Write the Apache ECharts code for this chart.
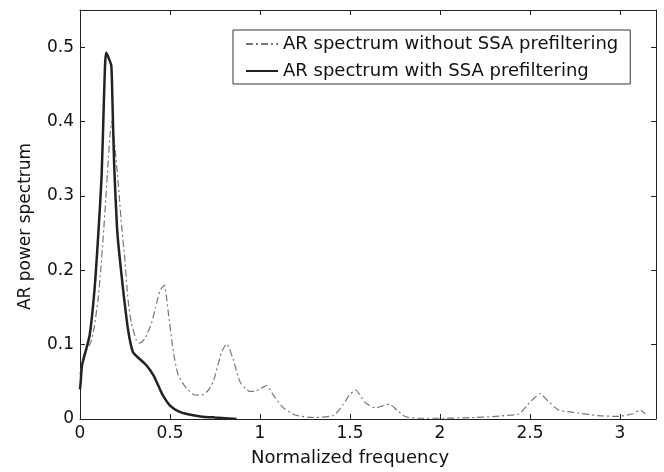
<!DOCTYPE html>
<html>
<head>
<meta charset="utf-8">
<title>AR power spectrum</title>
<script src="https://cdn.jsdelivr.net/npm/echarts@6/dist/echarts.min.js"></script>
<style>
html, body { margin: 0; padding: 0; background: #fff; }
#chart { width: 664px; height: 472px; }
</style>
</head>
<body>
<div id="chart"></div>
<script>
// AR spectrum without SSA prefiltering (dash-dot)
var rawFreq = [0, 0.02, 0.035, 0.05, 0.063, 0.08, 0.1, 0.115, 0.128, 0.139, 0.157, 0.168, 0.176, 0.19, 0.204, 0.218, 0.231, 0.248,
	0.267, 0.285, 0.313, 0.33, 0.36, 0.396, 0.42, 0.443, 0.468, 0.489, 0.517, 0.544, 0.58, 0.63, 0.676, 0.71, 0.74, 0.787, 0.815,
	0.85, 0.889, 0.944, 0.98, 1.037, 1.074, 1.13, 1.2, 1.3, 1.41, 1.46, 1.5, 1.53, 1.585, 1.64, 1.72, 1.76, 1.81, 1.88, 2.0, 2.2,
	2.33, 2.44, 2.49, 2.557, 2.6, 2.66, 2.77, 2.88, 2.99, 3.07, 3.113, 3.14];
var rawPower = [0.06, 0.085, 0.092, 0.098, 0.105, 0.125, 0.16, 0.2, 0.242, 0.28, 0.348, 0.385, 0.4, 0.375, 0.34, 0.3, 0.26, 0.218,
	0.16, 0.13, 0.106, 0.102, 0.108, 0.128, 0.15, 0.172, 0.18, 0.146, 0.093, 0.06, 0.045, 0.033, 0.032, 0.038, 0.05, 0.09, 0.101,
	0.081, 0.05, 0.037, 0.038, 0.045, 0.032, 0.015, 0.005, 0.002, 0.005, 0.019, 0.033, 0.039, 0.022, 0.015, 0.02, 0.012, 0.003, 0.001, 0.001, 0.002,
	0.004, 0.007, 0.02, 0.034, 0.024, 0.012, 0.008, 0.0045, 0.0035, 0.007, 0.012, 0.007];
// AR spectrum with SSA prefiltering (solid)
var ssaFreq = [0, 0.004, 0.011, 0.03, 0.054, 0.081, 0.102, 0.12, 0.133, 0.14, 0.146, 0.16, 0.174, 0.18, 0.19, 0.205, 0.215, 0.239,
	0.267, 0.294, 0.33, 0.37, 0.41, 0.435, 0.46, 0.5, 0.55, 0.6, 0.67, 0.75, 0.87];
var ssaPower = [0.04, 0.05, 0.072, 0.09, 0.113, 0.175, 0.25, 0.326, 0.43, 0.48, 0.493, 0.485, 0.475, 0.43, 0.34, 0.26, 0.23, 0.175,
	0.12, 0.09, 0.081, 0.072, 0.058, 0.045, 0.032, 0.018, 0.01, 0.0065, 0.0035, 0.002, 0];

var seriesNames = ['AR spectrum without SSA prefiltering', 'AR spectrum with SSA prefiltering'];
var xTicks = [0, 3.2, 0.5];
var yTicks = [0, 0.55, 0.1];

function pairs(xs, ys) {
	var out = [];
	for (var i = 0; i < xs.length; i++) {
		out.push([xs[i], ys[i]]);
	}
	return out;
}

var font = 'DejaVu Sans';
var lineColor = '#222';
var chart = echarts.init(document.getElementById('chart'));
var option = {
	animation: false,
	backgroundColor: '#fff',
	textStyle: { fontFamily: font, color: '#111' },
	grid: { left: 80, right: 8, top: 10, bottom: 51 },
	legend: {
		left: 233,
		top: 30,
		orient: 'vertical',
		data: seriesNames,
		itemWidth: 32,
		itemHeight: 14,
		itemGap: 9,
		padding: [5, 12, 4, 12],
		borderColor: '#333',
		borderWidth: 1,
		itemStyle: { opacity: 0 },
		textStyle: { fontFamily: font, fontSize: 18, color: '#111' }
	},
	xAxis: [{
		type: 'value',
		min: xTicks[0],
		max: xTicks[1],
		interval: xTicks[2],
		name: 'Normalized frequency',
		nameLocation: 'middle',
		nameGap: 30,
		nameTextStyle: { fontSize: 18, color: '#111', padding: [0, 36, 0, 0] },
		axisLine: { onZero: false, lineStyle: { color: lineColor, width: 1 } },
		axisTick: { inside: true, length: 5, lineStyle: { color: lineColor } },
		axisLabel: { fontSize: 17, color: '#111', margin: 6, showMaxLabel: false },
		splitLine: { show: false }
	}, {
		type: 'value',
		position: 'top',
		min: xTicks[0],
		max: xTicks[1],
		interval: xTicks[2],
		axisLine: { show: true, onZero: false, lineStyle: { color: lineColor, width: 1 } },
		axisTick: { show: true, inside: true, length: 5, lineStyle: { color: lineColor } },
		axisLabel: { show: false },
		splitLine: { show: false }
	}],
	yAxis: [{
		type: 'value',
		min: yTicks[0],
		max: yTicks[1],
		interval: yTicks[2],
		name: 'AR power spectrum',
		nameLocation: 'middle',
		nameGap: 46,
		nameTextStyle: { fontSize: 17, color: '#111', padding: [0, 24, 0, 0] },
		axisLine: { show: true, onZero: false, lineStyle: { color: lineColor, width: 1 } },
		axisTick: { show: true, inside: true, length: 5, lineStyle: { color: lineColor } },
		axisLabel: { fontSize: 17, color: '#111', margin: 6, showMaxLabel: false },
		splitLine: { show: false }
	}, {
		type: 'value',
		position: 'right',
		min: yTicks[0],
		max: yTicks[1],
		interval: yTicks[2],
		axisLine: { show: true, onZero: false, lineStyle: { color: lineColor, width: 1 } },
		axisTick: { show: true, inside: true, length: 5, lineStyle: { color: lineColor } },
		axisLabel: { show: false },
		splitLine: { show: false }
	}],
	series: [{
		name: seriesNames[0],
		type: 'line',
		showSymbol: false,
		symbol: 'none',
		smooth: 0.2,
		lineStyle: { color: '#777', width: 1.2, type: [7, 3, 2, 3] },
		itemStyle: { color: '#777' },
		data: pairs(rawFreq, rawPower)
	}, {
		name: seriesNames[1],
		type: 'line',
		showSymbol: false,
		symbol: 'none',
		smooth: 0.2,
		lineStyle: { color: '#222', width: 2.5 },
		itemStyle: { color: '#222' },
		data: pairs(ssaFreq, ssaPower)
	}]
};
chart.setOption(option);
</script>
</body>
</html>
